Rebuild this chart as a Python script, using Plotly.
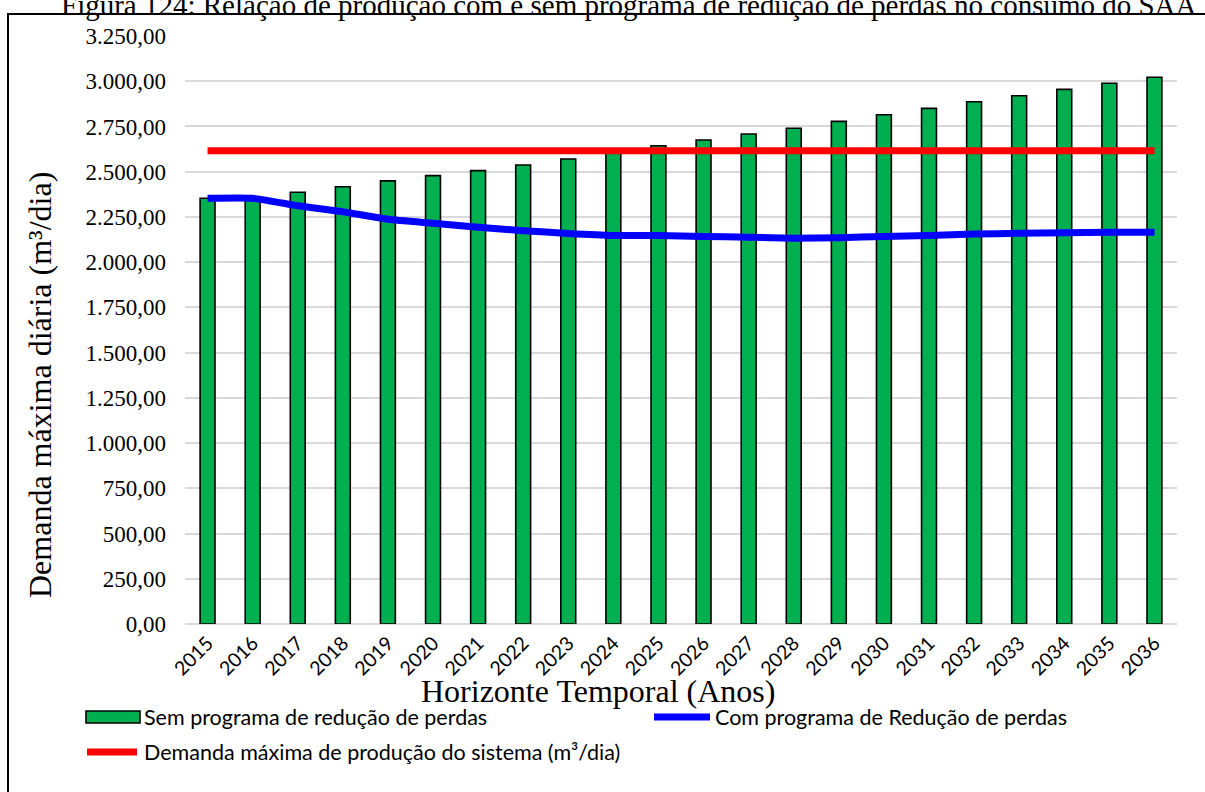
import plotly.graph_objects as go

# Horizon years and daily maximum demand series (m³/dia)
anos = ["2015", "2016", "2017", "2018", "2019", "2020", "2021", "2022", "2023", "2024", "2025",
        "2026", "2027", "2028", "2029", "2030", "2031", "2032", "2033", "2034", "2035", "2036"]

sem_programa = [2353, 2353, 2386, 2417, 2449, 2478, 2506, 2537, 2570, 2606, 2643,
                2675, 2708, 2740, 2778, 2815, 2850, 2887, 2920, 2955, 2989, 3022]

com_programa = [2353, 2353, 2312, 2279, 2237, 2215, 2193, 2174, 2159, 2148, 2147,
                2142, 2138, 2132, 2135, 2142, 2148, 2155, 2160, 2162, 2165, 2165]

demanda_sistema = [2616, 2616, 2616, 2616, 2616, 2616, 2616, 2616, 2616, 2616, 2616,
                   2616, 2616, 2616, 2616, 2616, 2616, 2616, 2616, 2616, 2616, 2616]

y_ticks = [0, 250, 500, 750, 1000, 1250, 1500, 1750, 2000, 2250, 2500, 2750, 3000, 3250]

W, H = 1205, 792
PL, PR, PT, PB = 185, 1177, 36, 624   # plot area in pixels

def px(x):
    return (x - PL) / (PR - PL)

def py(y):
    return (PB - y) / (PB - PT)

SERIF = "Liberation Serif, Times New Roman, serif"
SANS = "Lato, Carlito, Calibri, sans-serif"

fig = go.Figure()

fig.add_trace(go.Bar(
    x=anos, y=sem_programa, name="Sem programa de redução de perdas",
    marker=dict(color="#00B050", line=dict(color="black", width=1.6)),
    showlegend=False,
))
fig.add_trace(go.Scatter(
    x=anos, y=com_programa, mode="lines", name="Com programa de Redução de perdas",
    line=dict(color="#0000FF", width=7, shape="spline", smoothing=0.5),
    showlegend=False,
))
fig.add_trace(go.Scatter(
    x=anos, y=demanda_sistema, mode="lines", name="Demanda máxima de produção do sistema (m³/dia)",
    line=dict(color="#FF0000", width=7),
    showlegend=False,
))

shapes = [
    # outer frame
    dict(type="rect", xref="paper", yref="paper", x0=px(8), x1=px(1215), y0=py(14), y1=py(800),
         line=dict(color="black", width=2), fillcolor="rgba(0,0,0,0)", layer="above"),
    # legend swatches
    dict(type="rect", xref="paper", yref="paper", x0=px(86), x1=px(140), y0=py(711), y1=py(723),
         fillcolor="#00B050", line=dict(color="black", width=1.6)),
    dict(type="line", xref="paper", yref="paper", x0=px(654), x1=px(710), y0=py(717), y1=py(717),
         line=dict(color="#0000FF", width=7)),
    dict(type="line", xref="paper", yref="paper", x0=px(87), x1=px(137), y0=py(752), y1=py(752),
         line=dict(color="#FF0000", width=7)),
]

annotations = [
    dict(text="Figura 124: Relação de produção com e sem programa de redução de perdas no consumo do SAA",
         xref="paper", yref="paper", x=px(629), y=py(5), xanchor="center", yanchor="middle",
         showarrow=False, font=dict(family=SERIF, size=29, color="black")),
    dict(text="Demanda máxima diária (m³/dia)", textangle=-90,
         xref="paper", yref="paper", x=px(40), y=py(385), xanchor="center", yanchor="middle",
         showarrow=False, font=dict(family=SERIF, size=32, color="black")),
    dict(text="Horizonte Temporal (Anos)",
         xref="paper", yref="paper", x=px(598), y=py(691), xanchor="center", yanchor="middle",
         showarrow=False, font=dict(family=SERIF, size=32, color="black")),
    dict(text="Sem programa de redução de perdas",
         xref="paper", yref="paper", x=px(142), y=py(717), xanchor="left", yanchor="middle",
         showarrow=False, font=dict(family=SANS, size=21.5, color="black")),
    dict(text="Com programa de Redução de perdas",
         xref="paper", yref="paper", x=px(713), y=py(717), xanchor="left", yanchor="middle",
         showarrow=False, font=dict(family=SANS, size=21.5, color="black")),
    dict(text="Demanda máxima de produção do sistema (m³/dia)",
         xref="paper", yref="paper", x=px(142), y=py(752), xanchor="left", yanchor="middle",
         showarrow=False, font=dict(family=SANS, size=21.5, color="black")),
]

fig.update_layout(
    width=W, height=H,
    margin=dict(l=PL, r=W - PR, t=PT, b=H - PB, pad=0),
    paper_bgcolor="white", plot_bgcolor="white",
    separators=",.",
    bargap=0.67,
    shapes=shapes,
    annotations=annotations,
    xaxis=dict(
        type="category", tickangle=-45, showgrid=False, showline=False, ticks="",
        ticklabelstandoff=3,
        tickfont=dict(family=SANS, size=19.5, color="black"),
    ),
    yaxis=dict(
        range=[0, 3250], tickvals=y_ticks, tickformat=",.2f",
        showgrid=True, gridcolor="#D9D9D9", gridwidth=1.5,
        zeroline=True, zerolinecolor="#D9D9D9", zerolinewidth=1.5,
        showline=False, ticks="", ticklabelstandoff=18,
        tickfont=dict(family=SERIF, size=23, color="black"),
    ),
)

fig.write_html("out.html")
